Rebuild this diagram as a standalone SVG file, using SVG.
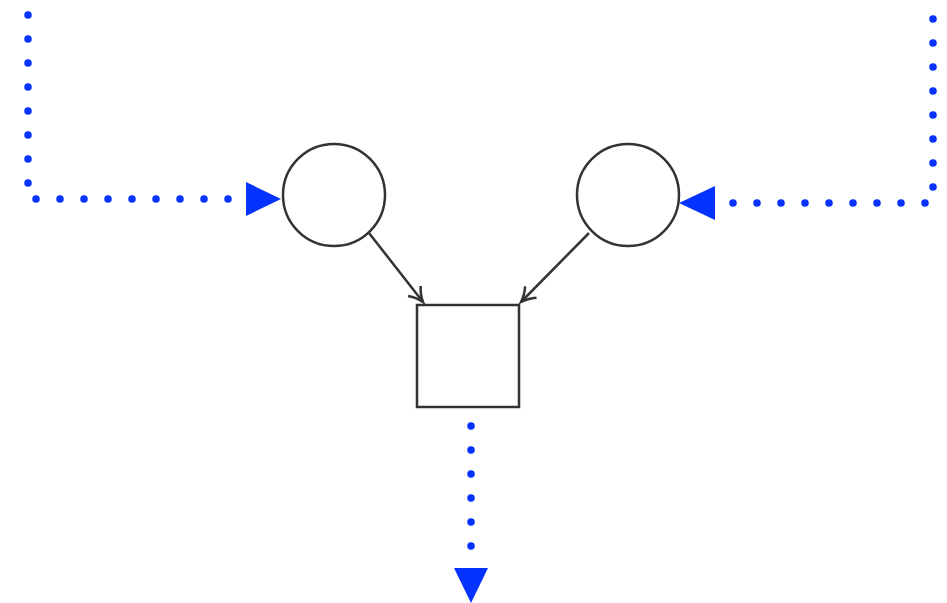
<svg xmlns="http://www.w3.org/2000/svg" width="947" height="603" viewBox="0 0 947 603">
<style>
.node{fill:#fff;stroke:#333;stroke-width:2.5}
.dot{fill:none;stroke:#0433ff;stroke-width:7.5;stroke-linecap:round;stroke-dasharray:0 24}
.line{fill:none;stroke:#333;stroke-width:2.5}
.tri{fill:#0433ff}
</style>
<defs>
<marker id="open" markerUnits="userSpaceOnUse" markerWidth="24" markerHeight="24" refX="0" refY="0" viewBox="-16 -12 24 24" orient="auto" overflow="visible">
<path d="M-14,-8 Q-7,-2 0,0 Q-7,2 -14,8" fill="none" stroke="#333" stroke-width="2.5"/>
</marker>
</defs>
<rect width="947" height="603" fill="#fff"/>
<g id="connectors">
<path class="dot" d="M28,15 L28,199 L246,199"/>
<polygon class="tri" points="246,182 281,199 246,216"/>
<path class="dot" d="M933,19 L933,203 L715,203"/>
<polygon class="tri" points="715,186 679,203 715,220"/>
<path class="dot" d="M471,426 L471,568"/>
<polygon class="tri" points="454,568 488,568 471,603"/>
<line class="line" x1="369" y1="233" x2="423" y2="302" marker-end="url(#open)"/>
<line class="line" x1="589" y1="233" x2="521" y2="302" marker-end="url(#open)"/>
</g>
<g id="circle-left"><circle class="node" cx="334" cy="195" r="51"/></g>
<g id="circle-right"><circle class="node" cx="628" cy="195" r="51"/></g>
<g id="square"><rect class="node" x="417" y="305" width="102" height="102"/></g>
</svg>
